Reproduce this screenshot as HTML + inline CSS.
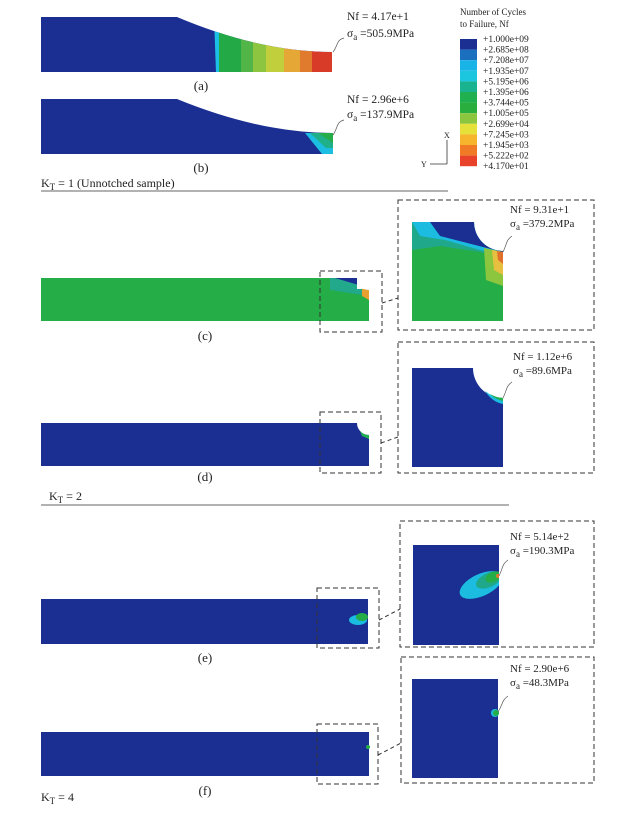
<!DOCTYPE html>
<html><head><meta charset="utf-8"><style>
html,body{margin:0;padding:0;background:#fff}
svg text{font-family:"Liberation Serif",serif;fill:#222}
</style></head><body>
<svg width="625" height="808" viewBox="0 0 625 808" xmlns="http://www.w3.org/2000/svg">
<defs>
<clipPath id="ca"><path d="M41,17 H177 Q260,52 332,52 V72 H41 Z"/></clipPath>
<clipPath id="cb"><path d="M41,99 H177 Q260,133 333,133 V154 H41 Z"/></clipPath>
<clipPath id="cc"><path d="M412,222 H474 A29,29 0 0 0 503,251 V321 H412 Z"/></clipPath>
<clipPath id="ce"><rect x="413" y="545" width="86" height="100"/></clipPath>
</defs>
<!-- (a) -->
<g clip-path="url(#ca)">
<rect x="41" y="17" width="292" height="56" fill="#1b2f93"/>
<path d="M214,17 L216,73 L222,73 L220,17Z" fill="#1cc0e4"/>
<rect x="219" y="17" width="22" height="56" fill="#23a945"/>
<rect x="241" y="17" width="12" height="56" fill="#52b548"/>
<rect x="253" y="17" width="13" height="56" fill="#8dc540"/>
<rect x="266" y="17" width="18" height="56" fill="#c2cf3c"/>
<rect x="284" y="17" width="16" height="56" fill="#e5a736"/>
<rect x="300" y="17" width="12" height="56" fill="#e07a2c"/>
<rect x="312" y="17" width="21" height="56" fill="#d93b29"/>
</g>
<text x="201" y="90" font-size="13" text-anchor="middle">(a)</text>
<path d="M333,52 C338,46 336,40 344,38" fill="none" stroke="#555" stroke-width="0.7"/>
<text x="347" y="20" font-size="11.5">Nf = 4.17e+1</text>
<text x="347" y="37" font-size="11.5">σ<tspan font-size="9" dy="3">a</tspan><tspan dy="-3"> =505.9MPa</tspan></text>
<!-- (b) -->
<g clip-path="url(#cb)">
<rect x="41" y="99" width="293" height="56" fill="#1b2f93"/>
<path d="M305,133 L333,133 L333,154 L322,154Z" fill="#1bbde0"/>
<path d="M310,133 L333,133 L333,148 L326,148Z" fill="#1fb08a"/>
<path d="M318,133 L333,133 L333,143 Z" fill="#26ad4a"/>
</g>
<text x="201" y="172" font-size="13" text-anchor="middle">(b)</text>
<path d="M333,135 C338,128 336,122 344,120" fill="none" stroke="#555" stroke-width="0.7"/>
<text x="347" y="103" font-size="11.5">Nf = 2.96e+6</text>
<text x="347" y="118" font-size="11.5">σ<tspan font-size="9" dy="3">a</tspan><tspan dy="-3"> =137.9MPa</tspan></text>
<text x="41" y="187" font-size="12">K<tspan font-size="9" dy="3">T</tspan><tspan dy="-3"> = 1  (Unnotched sample)</tspan></text>
<line x1="41" y1="191" x2="448" y2="191" stroke="#999" stroke-width="1.5"/>
<!-- legend -->
<text x="460" y="15" font-size="9">Number of Cycles</text>
<text x="460" y="27" font-size="9">to Failure, Nf</text>
<g>
<rect x="460" y="39" width="17" height="10.6" fill="#1b2f93"/>
<rect x="460" y="49.6" width="17" height="10.6" fill="#1a6fbf"/>
<rect x="460" y="60.2" width="17" height="10.6" fill="#18b4e8"/>
<rect x="460" y="70.8" width="17" height="10.6" fill="#1cc6de"/>
<rect x="460" y="81.4" width="17" height="10.6" fill="#19b38f"/>
<rect x="460" y="92" width="17" height="10.6" fill="#20b04f"/>
<rect x="460" y="102.6" width="17" height="10.6" fill="#2aae3e"/>
<rect x="460" y="113.2" width="17" height="10.6" fill="#8cc63f"/>
<rect x="460" y="123.8" width="17" height="10.6" fill="#e6e03a"/>
<rect x="460" y="134.4" width="17" height="10.6" fill="#f6b52d"/>
<rect x="460" y="145" width="17" height="10.6" fill="#f07a26"/>
<rect x="460" y="155.6" width="17" height="10.6" fill="#e8432a"/>
</g>
<g font-size="9.5">
<text x="483" y="42">+1.000e+09</text>
<text x="483" y="52.6">+2.685e+08</text>
<text x="483" y="63.2">+7.208e+07</text>
<text x="483" y="73.8">+1.935e+07</text>
<text x="483" y="84.4">+5.195e+06</text>
<text x="483" y="95">+1.395e+06</text>
<text x="483" y="105.6">+3.744e+05</text>
<text x="483" y="116.2">+1.005e+05</text>
<text x="483" y="126.8">+2.699e+04</text>
<text x="483" y="137.4">+7.245e+03</text>
<text x="483" y="148">+1.945e+03</text>
<text x="483" y="158.6">+5.222e+02</text>
<text x="483" y="169.2">+4.170e+01</text>
</g>
<line x1="447" y1="140" x2="447" y2="164" stroke="#333" stroke-width="0.8"/>
<line x1="430" y1="164" x2="447" y2="164" stroke="#333" stroke-width="0.8"/>
<text x="444" y="138" font-size="8">X</text>
<text x="421" y="167" font-size="8">Y</text>
<!-- (c) -->
<rect x="41" y="278" width="328" height="43" fill="#25ad47"/>
<path d="M330,278 H357 A12,12 0 0 0 369,290 V296 L330,290Z" fill="#22a88a"/>
<path d="M335,278 H357 A12,12 0 0 0 362,286 Z" fill="#1b2f93"/>
<path d="M362,287 A12,12 0 0 0 369,290 V300 L362,296Z" fill="#e8a030"/>
<rect x="357" y="277" width="13" height="12" fill="#fff"/>
<circle cx="369" cy="278" r="12" fill="#fff"/>
<rect x="320" y="271" width="62" height="61" fill="none" stroke="#333" stroke-dasharray="5,3"/>
<line x1="382" y1="303" x2="398" y2="298" stroke="#333" stroke-dasharray="4,3"/>
<rect x="398" y="200" width="196" height="130" fill="none" stroke="#333" stroke-dasharray="5,3"/>
<g clip-path="url(#cc)">
<rect x="412" y="222" width="91" height="99" fill="#25ad47"/>
<path d="M412,222 L412,250 L440,246 L480,252 L503,258 V222Z" fill="#1fa88a"/>
<path d="M412,222 L420,236 L445,240 L480,250 L503,255 V222Z" fill="#1cbbe0"/>
<path d="M430,222 L440,236 L475,245 L503,252 V222Z" fill="#1b2f93"/>
<path d="M484,248 L503,252 V286 L486,280Z" fill="#8cc63f"/>
<path d="M492,250 L503,252 V275 L494,270Z" fill="#e8c040"/>
<path d="M497,251 L503,252 V264 L498,260Z" fill="#e0702a"/>
</g>
<path d="M503,252 C507,244 506,240 512,236" fill="none" stroke="#555" stroke-width="0.7"/>
<text x="510" y="213" font-size="11">Nf = 9.31e+1</text>
<text x="510" y="227" font-size="11">σ<tspan font-size="9" dy="3">a</tspan><tspan dy="-3"> =379.2MPa</tspan></text>
<text x="205" y="340" font-size="13" text-anchor="middle">(c)</text>
<!-- (d) -->
<path d="M41,423 H357 A12,12 0 0 0 369,435 V466 H41Z" fill="#1b2f93"/>
<path d="M360,431 A12,12 0 0 0 369,435 V439 L362,436Z" fill="#20b04f"/>
<rect x="320" y="412" width="61" height="61" fill="none" stroke="#333" stroke-dasharray="5,3"/>
<line x1="381" y1="443" x2="398" y2="437" stroke="#333" stroke-dasharray="4,3"/>
<rect x="398" y="342" width="196" height="131" fill="none" stroke="#333" stroke-dasharray="5,3"/>
<path d="M412,368 H473 A30,30 0 0 0 503,398 V467 H412Z" fill="#1b2f93"/>
<path d="M485,391 A30,30 0 0 0 503,398 V404 Q492,402 485,391Z" fill="#1cbbe0"/>
<path d="M490,394 A30,30 0 0 0 503,398 V401 Q495,399 490,394Z" fill="#25ad47"/>
<path d="M503,398 C507,390 506,386 512,382" fill="none" stroke="#555" stroke-width="0.7"/>
<text x="513" y="360" font-size="11">Nf = 1.12e+6</text>
<text x="513" y="374" font-size="11">σ<tspan font-size="9" dy="3">a</tspan><tspan dy="-3"> =89.6MPa</tspan></text>
<text x="205" y="481" font-size="13" text-anchor="middle">(d)</text>
<text x="49" y="500" font-size="12">K<tspan font-size="9" dy="3">T</tspan><tspan dy="-3"> = 2</tspan></text>
<line x1="41" y1="505" x2="509" y2="505" stroke="#999" stroke-width="1.5"/>
<!-- (e) -->
<rect x="41" y="599" width="327" height="45" fill="#1b2f93"/>
<ellipse cx="358" cy="620" rx="9" ry="5" fill="#1cbbe0"/>
<ellipse cx="362" cy="617" rx="6" ry="4" fill="#25ad47"/>
<rect x="317" y="588" width="62" height="60" fill="none" stroke="#333" stroke-dasharray="5,3"/>
<line x1="379" y1="620" x2="400" y2="609" stroke="#333" stroke-dasharray="4,3"/>
<rect x="400" y="521" width="194" height="126" fill="none" stroke="#333" stroke-dasharray="5,3"/>
<rect x="413" y="545" width="86" height="100" fill="#1b2f93"/>
<g clip-path="url(#ce)">
<ellipse cx="481" cy="585" rx="23" ry="11" transform="rotate(-25 481 585)" fill="#1cbbe0"/>
<ellipse cx="489" cy="580" rx="14" ry="7" transform="rotate(-25 489 580)" fill="#1fa88a"/>
<ellipse cx="493" cy="577" rx="8" ry="5" transform="rotate(-25 493 577)" fill="#25ad47"/>
<circle cx="498" cy="576" r="2" fill="#e07a2c"/>
</g>
<path d="M499,576 C503,568 502,564 508,560" fill="none" stroke="#555" stroke-width="0.7"/>
<text x="510" y="540" font-size="11">Nf = 5.14e+2</text>
<text x="510" y="554" font-size="11">σ<tspan font-size="9" dy="3">a</tspan><tspan dy="-3"> =190.3MPa</tspan></text>
<text x="205" y="662" font-size="13" text-anchor="middle">(e)</text>
<!-- (f) -->
<rect x="41" y="732" width="328" height="44" fill="#1b2f93"/>
<circle cx="368" cy="747" r="2" fill="#25ad47"/>
<rect x="317" y="724" width="61" height="60" fill="none" stroke="#333" stroke-dasharray="5,3"/>
<line x1="378" y1="755" x2="401" y2="743" stroke="#333" stroke-dasharray="4,3"/>
<rect x="401" y="657" width="193" height="126" fill="none" stroke="#333" stroke-dasharray="5,3"/>
<rect x="412" y="679" width="86" height="99" fill="#1b2f93"/>
<ellipse cx="495" cy="713" rx="4" ry="4" fill="#1cbbe0"/>
<ellipse cx="496" cy="713" rx="3" ry="3" fill="#25ad47"/>
<path d="M498,712 C503,704 502,700 508,696" fill="none" stroke="#555" stroke-width="0.7"/>
<text x="510" y="672" font-size="11">Nf = 2.90e+6</text>
<text x="510" y="686" font-size="11">σ<tspan font-size="9" dy="3">a</tspan><tspan dy="-3"> =48.3MPa</tspan></text>
<text x="205" y="795" font-size="13" text-anchor="middle">(f)</text>
<text x="41" y="801" font-size="12">K<tspan font-size="9" dy="3">T</tspan><tspan dy="-3"> = 4</tspan></text>
</svg>
</body></html>
